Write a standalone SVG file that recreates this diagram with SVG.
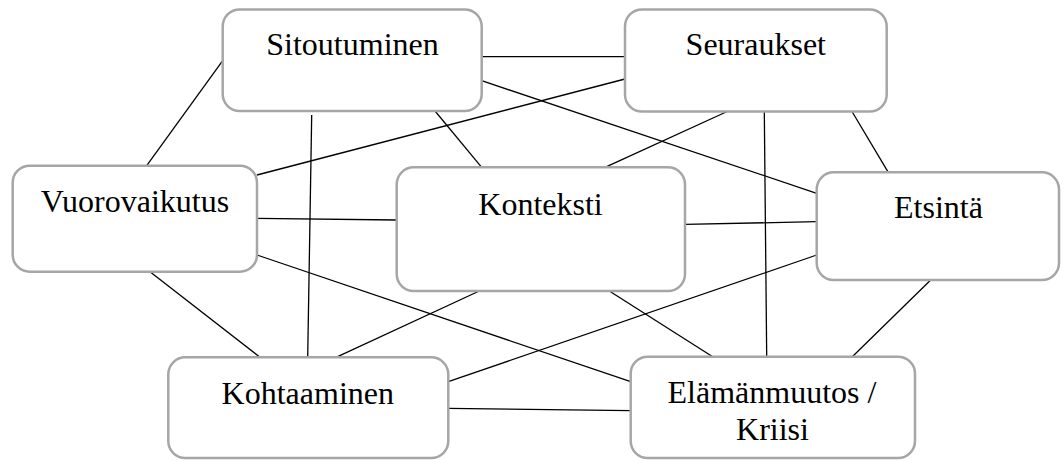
<svg xmlns="http://www.w3.org/2000/svg" width="1064" height="461" viewBox="0 0 1064 461">
<style>
.box{fill:#ffffff;stroke:#a6a6a6;stroke-width:2.5}
.lbl{font-family:"Liberation Serif","Times New Roman",serif;font-size:32px;fill:#000;text-anchor:middle}
.con line{stroke:#000;stroke-width:1.3}
</style>
<rect width="1064" height="461" fill="#ffffff"/>
<g id="connectors" class="con">
<line x1="481.7" y1="56.7" x2="625" y2="56.7"/>
<line x1="222.7" y1="60.7" x2="146.7" y2="165.7"/>
<line x1="311.7" y1="115" x2="307.7" y2="357.3"/>
<line x1="435" y1="111" x2="481.7" y2="167.3"/>
<line x1="481.7" y1="80.7" x2="816.7" y2="193.3"/>
<line x1="625" y1="79" x2="257" y2="175"/>
<line x1="728.3" y1="111" x2="605" y2="167.3"/>
<line x1="764.3" y1="111" x2="766.7" y2="356.7"/>
<line x1="851.7" y1="111" x2="888.3" y2="172.3"/>
<line x1="257" y1="218.3" x2="396.7" y2="220"/>
<line x1="257" y1="255" x2="630.7" y2="381.7"/>
<line x1="150" y1="271.7" x2="260" y2="357.3"/>
<line x1="685" y1="224.3" x2="816.7" y2="221.7"/>
<line x1="479.3" y1="291" x2="336" y2="357.3"/>
<line x1="609.3" y1="291" x2="712.7" y2="356.7"/>
<line x1="816.7" y1="255" x2="448.3" y2="381.7"/>
<line x1="930.7" y1="280" x2="852.3" y2="356.7"/>
<line x1="448.3" y1="408.3" x2="630.7" y2="410.7"/>
</g>
<g id="sitoutuminen">
<rect class="box" x="222.7" y="9.5" width="259" height="101.5" rx="17"/>
<text class="lbl" x="352.5" y="55">Sitoutuminen</text>
</g>
<g id="seuraukset">
<rect class="box" x="625" y="9.5" width="261.7" height="102" rx="17"/>
<text class="lbl" x="755.8" y="55">Seuraukset</text>
</g>
<g id="vuorovaikutus">
<rect class="box" x="12.7" y="165.7" width="244.3" height="106" rx="17"/>
<text class="lbl" x="135" y="211.7">Vuorovaikutus</text>
</g>
<g id="konteksti">
<rect class="box" x="396.7" y="167.3" width="288.3" height="123.7" rx="17"/>
<text class="lbl" x="540.5" y="215">Konteksti</text>
</g>
<g id="etsinta">
<rect class="box" x="816.7" y="172.3" width="242.3" height="107.7" rx="17"/>
<text class="lbl" x="938.5" y="218.3">Etsintä</text>
</g>
<g id="kohtaaminen">
<rect class="box" x="168.3" y="357.3" width="280" height="100.7" rx="17"/>
<text class="lbl" x="307.8" y="404">Kohtaaminen</text>
</g>
<g id="elamanmuutos">
<rect class="box" x="630.7" y="356.7" width="284.3" height="101.3" rx="17"/>
<text class="lbl" x="772" y="402.7">Elämänmuutos /</text>
<text class="lbl" x="772.5" y="440">Kriisi</text>
</g>
</svg>
